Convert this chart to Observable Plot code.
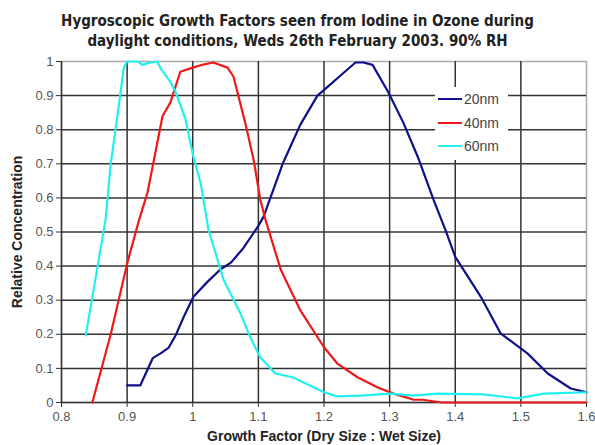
<!DOCTYPE html>
<html>
<head>
<meta charset="utf-8">
<script src="https://cdn.jsdelivr.net/npm/d3@7"></script>
<script src="https://cdn.jsdelivr.net/npm/@observablehq/plot@0.6"></script>
<style>
  html, body { margin: 0; padding: 0; background: #fff; }
  #wrap { position: relative; width: 595px; height: 445px; overflow: hidden; }
  #title { height: 46px; box-sizing: border-box; padding-top: 11px; text-align: center;
           font-family: "Liberation Sans Narrow", "Arial Narrow", "DejaVu Sans Condensed", sans-serif;
           font-weight: bold; font-size: 15px; line-height: 20px; color: #222; position: relative; z-index: 1; }
  #legend { position: absolute; left: 435px; top: 87px; width: 73px; height: 73px; background: #fff;
            font-family: "Liberation Sans Narrow", "Arial Narrow", "Liberation Sans", sans-serif; font-size: 14px; color: #444; }
  .row { position: absolute; left: 3px; height: 16px; display: flex; align-items: center; }
  .sw { width: 24px; height: 2px; margin-right: 2px; }
  svg [aria-label="x-axis label"] text, svg [aria-label="y-axis label"] text { font-weight: bold; fill: #222; font-size: 14px; }
</style>
</head>
<body>
<div id="wrap">
  <div id="title">Hygroscopic Growth Factors seen from Iodine in Ozone during<br>daylight conditions, Weds 26th February 2003. 90% RH</div>
  <div id="chart"></div>
  <div id="legend"></div>
</div>
<script>
const seriesNames = ["20nm", "40nm", "60nm"];
const seriesColors = ["#10108a", "#f01818", "#22f0f0"];

const x20 = [0.9, 0.92, 0.939, 0.951, 0.963, 0.974, 0.986, 1.001, 1.022, 1.042, 1.058, 1.076, 1.099, 1.108, 1.137, 1.164, 1.19, 1.205, 1.23, 1.248, 1.26, 1.274, 1.298, 1.321, 1.343, 1.367, 1.385, 1.40, 1.439, 1.469, 1.51, 1.541, 1.576, 1.6];
const y20 = [0.05, 0.05, 0.13, 0.144, 0.16, 0.197, 0.25, 0.31, 0.353, 0.39, 0.41, 0.45, 0.515, 0.545, 0.70, 0.815, 0.90, 0.925, 0.967, 0.997, 0.997, 0.99, 0.91, 0.82, 0.72, 0.594, 0.506, 0.427, 0.31, 0.203, 0.144, 0.085, 0.041, 0.03];

const x40 = [0.847, 0.875, 0.9, 0.918, 0.931, 0.954, 0.966, 0.981, 1.0, 1.016, 1.031, 1.053, 1.062, 1.08, 1.093, 1.103, 1.111, 1.134, 1.164, 1.2, 1.22, 1.251, 1.282, 1.306, 1.337, 1.35, 1.38, 1.6];
const y40 = [0.0, 0.2, 0.407, 0.534, 0.615, 0.84, 0.88, 0.97, 0.982, 0.991, 0.997, 0.982, 0.956, 0.82, 0.71, 0.594, 0.535, 0.39, 0.27, 0.162, 0.115, 0.074, 0.044, 0.026, 0.008, 0.008, 0.0, 0.0];

const x60 = [0.837, 0.867, 0.875, 0.885, 0.895, 0.9, 0.917, 0.923, 0.933, 0.946, 0.951, 0.966, 0.974, 0.989, 1.001, 1.012, 1.024, 1.047, 1.073, 1.088, 1.103, 1.126, 1.152, 1.172, 1.2, 1.22, 1.256, 1.302, 1.337, 1.373, 1.443, 1.495, 1.535, 1.6];
const y60 = [0.197, 0.534, 0.70, 0.837, 0.983, 1.0, 1.0, 0.99, 0.996, 1.0, 0.98, 0.94, 0.91, 0.83, 0.72, 0.644, 0.506, 0.36, 0.26, 0.19, 0.132, 0.085, 0.074, 0.056, 0.03, 0.018, 0.02, 0.026, 0.02, 0.026, 0.024, 0.012, 0.026, 0.03];

const xTicks = [0.8, 0.9, 1, 1.1, 1.2, 1.3, 1.4, 1.5, 1.6];
const yTicks = [0, 0.1, 0.2, 0.3, 0.4, 0.5, 0.6, 0.7, 0.8, 0.9, 1];

const xs = [x20, x40, x60], ys = [y20, y40, y60];
const data = seriesNames.flatMap((s, k) => xs[k].map((x, i) => ({series: s, x, y: ys[k][i]})));

const chart = Plot.plot({
  width: 595, height: 399,
  marginTop: 15, marginBottom: 43, marginLeft: 61, marginRight: 9,
  style: {fontFamily: '"Liberation Sans", Arial, sans-serif', fontSize: "13px", color: "#555", background: "transparent"},
  x: {domain: [0.8, 1.6]},
  y: {domain: [0, 1]},
  color: {domain: seriesNames, range: seriesColors},
  marks: [
    Plot.frame({stroke: "#aaa", strokeWidth: 1.5}),
    Plot.gridX(xTicks.slice(1, -1), {stroke: "#333", strokeOpacity: 1, strokeWidth: 1.5}),
    Plot.gridY(yTicks.slice(1, -1), {stroke: "#333", strokeOpacity: 1, strokeWidth: 1.5}),
    Plot.ruleX(xTicks.slice(0, 1), {stroke: "#333", strokeWidth: 1.5}),
    Plot.ruleY(yTicks.slice(0, 1), {stroke: "#333", strokeWidth: 1.5}),
    Plot.axisX(xTicks, {tickSize: 5, tickPadding: 4, stroke: "#333", tickFormat: d => String(d),
      label: "Growth Factor (Dry Size : Wet Size)", labelAnchor: "center", labelOffset: 38, labelArrow: "none"}),
    Plot.axisY(yTicks, {tickSize: 5, tickPadding: 3, stroke: "#333", tickFormat: d => String(d),
      label: "Relative Concentration", labelAnchor: "center", labelOffset: 49, labelArrow: "none"}),
    Plot.line(data, {x: "x", y: "y", z: "series", stroke: "series", strokeWidth: 2.2, curve: "linear"})
  ]
});
document.getElementById("chart").appendChild(chart);

const legend = document.getElementById("legend");
seriesNames.forEach((s, i) => {
  const row = document.createElement("div");
  row.className = "row";
  row.style.top = (4 + i * 23.5) + "px";
  const sw = document.createElement("div");
  sw.className = "sw";
  sw.style.background = seriesColors[i];
  const t = document.createElement("span");
  t.textContent = s;
  row.appendChild(sw); row.appendChild(t);
  legend.appendChild(row);
});
</script>
</body>
</html>
